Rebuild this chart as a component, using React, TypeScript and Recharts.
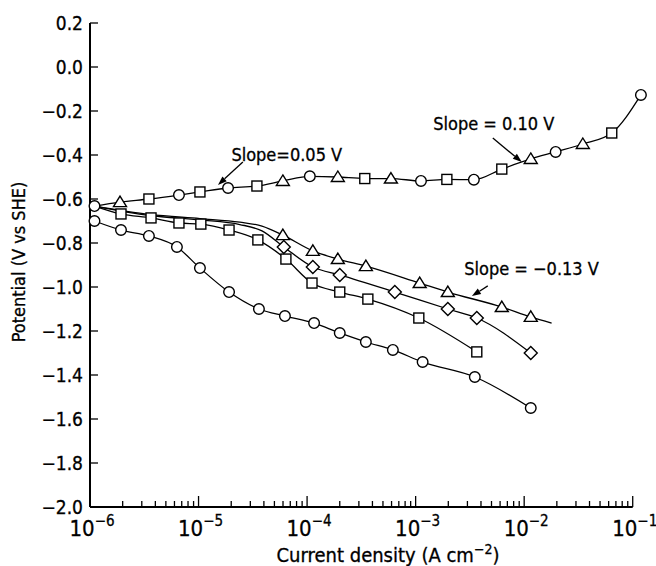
import React from "react"
import { LineChart, Line, XAxis, YAxis, ReferenceLine, ReferenceDot } from "recharts"

// upper (anodic) branch, mixed symbols
const anodicI = [1.1e-6, 1.89e-6, 3.49e-6, 6.6e-6, 1.03e-5, 1.87e-5, 3.45e-5, 5.98e-5, 1.06e-4, 1.92e-4, 3.4e-4, 5.92e-4, 1.12e-3, 1.94e-3, 3.44e-3, 6.22e-3, 1.15e-2, 1.95e-2, 3.47e-2, 6.41e-2, 0.119]
const anodicE = [-0.632, -0.614, -0.6, -0.582, -0.568, -0.55, -0.541, -0.518, -0.497, -0.5, -0.507, -0.507, -0.518, -0.511, -0.512, -0.464, -0.418, -0.386, -0.35, -0.3, -0.127]
const anodicSym = ["o", "^", "s", "o", "s", "o", "s", "^", "o", "^", "s", "^", "o", "s", "o", "s", "^", "o", "^", "s", "o"]

// cathodic branches
const squareI = [1.1e-6, 1.93e-6, 3.65e-6, 6.6e-6, 1.05e-5, 1.91e-5, 3.52e-5, 6.38e-5, 1.11e-4, 2.0e-4, 3.63e-4, 1.07e-3, 3.66e-3]
const squareE = [-0.632, -0.668, -0.686, -0.709, -0.714, -0.741, -0.786, -0.873, -0.982, -1.023, -1.055, -1.141, -1.295]
const squareSym = ["", "s", "s", "s", "s", "s", "s", "s", "s", "s", "s", "s", "s"]

const triI = [1.1e-6, 3.56e-6, 1.03e-5, 2.4e-5, 3.84e-5, 5.98e-5, 1.13e-4, 1.92e-4, 3.48e-4, 1.09e-3, 1.98e-3, 6.22e-3, 1.15e-2, 1.79e-2]
const triE = [-0.632, -0.67, -0.689, -0.705, -0.723, -0.764, -0.836, -0.873, -0.905, -0.982, -1.023, -1.091, -1.136, -1.164]
const triSym = ["", "", "", "", "", "^", "^", "^", "^", "^", "^", "^", "^", ""]

const diaI = [1.1e-6, 3.56e-6, 1.03e-5, 2.4e-5, 3.84e-5, 6.1e-5, 1.13e-4, 2.0e-4, 6.43e-4, 1.98e-3, 3.66e-3, 1.15e-2]
const diaE = [-0.632, -0.675, -0.695, -0.716, -0.745, -0.818, -0.909, -0.945, -1.023, -1.1, -1.141, -1.3]
const diaSym = ["", "", "", "", "", "d", "d", "d", "d", "d", "d", "d"]

const lowI = [1.1e-6, 1.93e-6, 3.49e-6, 6.32e-6, 1.03e-5, 1.91e-5, 3.6e-5, 6.25e-5, 1.16e-4, 2.0e-4, 3.48e-4, 6.17e-4, 1.16e-3, 3.51e-3, 1.15e-2]
const lowE = [-0.7, -0.741, -0.768, -0.818, -0.914, -1.023, -1.1, -1.132, -1.164, -1.209, -1.25, -1.286, -1.341, -1.409, -1.55]
const lowSym = ["o", "o", "o", "o", "o", "o", "o", "o", "o", "o", "o", "o", "o", "o", "o"]

const yTicks = [-2.0, -1.8, -1.6, -1.4, -1.2, -1.0, -0.8, -0.6, -0.4, -0.2, 0.0, 0.2]
const decades = [-6, -5, -4, -3, -2, -1]

const slopeNotes = [
  { text: "Slope=0.05 V", x: 6.5e-5, y: -0.4, from: [2.56e-5, -0.432], to: [1.51e-5, -0.536] },
  { text: "Slope = 0.10 V", x: 5.25e-3, y: -0.255, from: [5.14e-3, -0.323], to: [9.5e-3, -0.432] },
  { text: "Slope = \u22120.13 V", x: 1.17e-2, y: -0.914, from: [4.62e-3, -0.995], to: [3.3e-3, -1.041] },
]

const FONT = "'DejaVu Sans', sans-serif"
const TXT = { fontStretch: "condensed" as const }

const rows = (I: number[], E: number[], S: string[]) => I.map((v, k) => ({ i: v, e: E[k], s: S[k] }))

const xTicks: number[] = []
decades.forEach((d) => {
  if (d === -1) {
    xTicks.push(0.1)
    return
  }
  for (let m = 1; m <= 9; m++) xTicks.push(+(m * Math.pow(10, d)).toPrecision(3))
})

function Marker(props: any) {
  const { cx, cy, payload } = props
  const s = payload?.s
  const st = { fill: "#fff", stroke: "#000", strokeWidth: 1.4 }
  if (cx == null || cy == null || !s) return <g />
  if (s === "o") return <circle cx={cx} cy={cy} r={5.3} {...st} />
  if (s === "s") return <rect x={cx - 5} y={cy - 5} width={10} height={10} {...st} />
  if (s === "^") return <polygon points={`${cx},${cy - 6} ${cx + 6.5},${cy + 4.5} ${cx - 6.5},${cy + 4.5}`} {...st} />
  return <polygon points={`${cx},${cy - 6.5} ${cx + 6.5},${cy} ${cx},${cy + 6.5} ${cx - 6.5},${cy}`} {...st} />
}

function XTick(props: any) {
  const { x, y, payload } = props
  const lg = Math.log10(payload.value)
  const major = Math.abs(lg - Math.round(lg)) < 1e-6
  return (
    <g>
      <line x1={x} x2={x} y1={y} y2={y - (major ? 11 : 6)} stroke="#000" strokeWidth={1.3} />
      {major && (
        <text x={x + 2} y={y + 29} textAnchor="middle" fontFamily={FONT} style={TXT} fontSize={22} fill="#000" stroke="#000" strokeWidth={0.3}>
          <tspan>10</tspan>
          <tspan fontSize={15} dy={-10}>{`\u2212${-Math.round(lg)}`}</tspan>
        </text>
      )}
    </g>
  )
}

function YTick(props: any) {
  const { x, y, payload } = props
  const label = payload.value.toFixed(1).replace("-", "\u2212")
  return (
    <g>
      <line x1={x} x2={x + 8} y1={y} y2={y} stroke="#000" strokeWidth={1.3} />
      <text x={x - 7} y={y} dy="0.36em" textAnchor="end" fontFamily={FONT} style={TXT} fontSize={19} fill="#000" stroke="#000" strokeWidth={0.3}>
        {label}
      </text>
    </g>
  )
}

function Arrow(props: any) {
  const { x1, y1, x2, y2 } = props
  const a = Math.atan2(y2 - y1, x2 - x1)
  const L = 9
  const w = 3.2
  const bx = x2 - L * Math.cos(a)
  const by = y2 - L * Math.sin(a)
  const px = -Math.sin(a) * w
  const py = Math.cos(a) * w
  return (
    <g>
      <line x1={x1} y1={y1} x2={bx} y2={by} stroke="#000" strokeWidth={1.3} />
      <polygon points={`${x2},${y2} ${bx + px},${by + py} ${bx - px},${by - py}`} fill="#000" />
    </g>
  )
}

const series = [
  rows(anodicI, anodicE, anodicSym),
  rows(squareI, squareE, squareSym),
  rows(triI, triE, triSym),
  rows(diaI, diaE, diaSym),
  rows(lowI, lowE, lowSym),
]

export default function App() {
  return (
    <div style={{ position: "fixed", left: 0, top: 0, background: "#fff" }}>
      <LineChart width={656} height={566} margin={{ top: 23, right: 7, bottom: 0, left: 20 }}>
        <XAxis
          dataKey="i"
          type="number"
          scale="log"
          domain={[1e-6, Math.pow(10, -0.85)]}
          ticks={xTicks}
          interval={0}
          axisLine={false}
          tickLine={false}
          tickSize={0}
          tickMargin={0}
          tick={<XTick />}
          height={59}
          label={{
            content: () => (
              <text x={388} y={562} textAnchor="middle" fontFamily={FONT} style={TXT} fontSize={20} fill="#000" stroke="#000" strokeWidth={0.3}>
                <tspan>Current density (A cm</tspan>
                <tspan fontSize={14} dy={-8}>{"\u22122"}</tspan>
                <tspan dy={8}>)</tspan>
              </text>
            ),
          }}
        />
        <YAxis
          type="number"
          domain={[-2, 0.2]}
          ticks={yTicks}
          interval={0}
          width={70}
          axisLine={{ stroke: "#000", strokeWidth: 2 }}
          tickLine={false}
          tickSize={0}
          tickMargin={0}
          tick={<YTick />}
          label={{
            content: () => (
              <text x={19} y={262} transform="rotate(-90, 19, 262)" textAnchor="middle" dy="0.36em" fontFamily={FONT} style={TXT} fontSize={18} fill="#000" stroke="#000" strokeWidth={0.3}>
                Potential (V vs SHE)
              </text>
            ),
          }}
        />
        <ReferenceLine segment={[{ x: 1e-6, y: -2 }, { x: 0.1, y: -2 }]} stroke="#000" strokeWidth={2} />
        {series.map((d, k) => (
          <Line
            key={k}
            data={d}
            dataKey="e"
            type="monotone"
            stroke="#000"
            strokeWidth={1.3}
            dot={<Marker />}
            activeDot={false}
            isAnimationActive={false}
          />
        ))}
        {slopeNotes.map((n, k) => (
          <ReferenceLine
            key={`a${k}`}
            segment={[{ x: n.from[0], y: n.from[1] }, { x: n.to[0], y: n.to[1] }]}
            shape={(p: any) => <Arrow {...p} />}
          />
        ))}
        {slopeNotes.map((n, k) => (
          <ReferenceDot
            key={`t${k}`}
            x={n.x}
            y={n.y}
            r={0}
            shape={(p: any) => (
              <text x={p.cx} y={p.cy} dy="0.36em" textAnchor="middle" fontFamily={FONT} style={TXT} fontSize={18} fill="#000" stroke="#000" strokeWidth={0.3}>
                {n.text}
              </text>
            )}
          />
        ))}
      </LineChart>
    </div>
  )
}
